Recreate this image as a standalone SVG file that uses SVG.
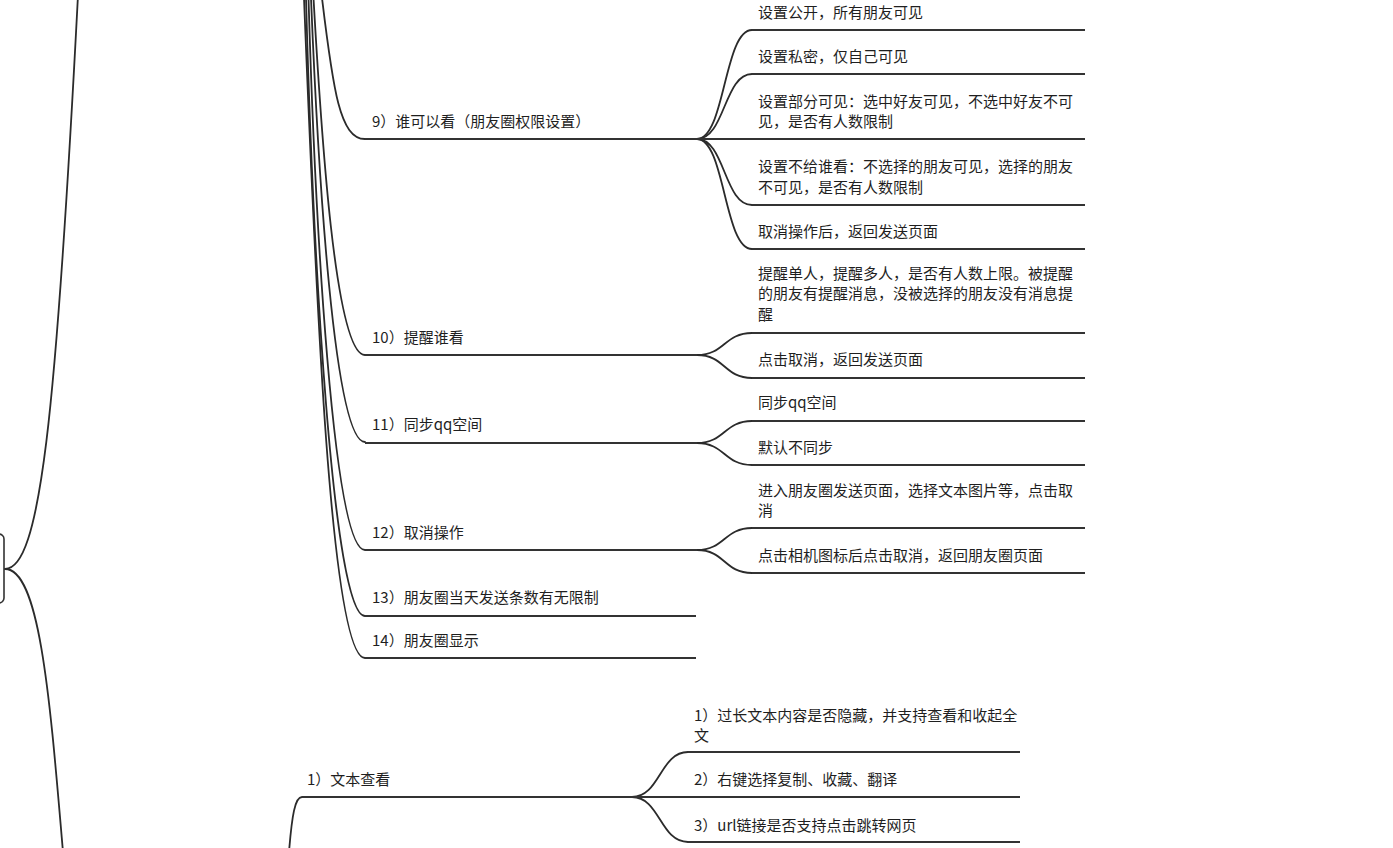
<svg xmlns="http://www.w3.org/2000/svg" width="1393" height="848" viewBox="0 0 1393 848">
  <style>
    .bg { fill: #ffffff; }
    .edge { fill: none; stroke: #2b2b2b; stroke-width: 1.8; stroke-linecap: round; }
    .bar { fill: none; stroke: #333333; stroke-width: 2; }
    .box { fill: #ffffff; stroke: #333333; stroke-width: 1.6; }
    text { font-family: "Noto Sans CJK SC", "Noto Sans", sans-serif; font-size: 15px; fill: #1f1f1f; }
  </style>
  <rect class="bg" x="0" y="0" width="1393" height="848"/>

  <!-- connectors -->
  <g id="connectors">
    <!-- root branches -->
    <path class="edge" d="M5,569 C40,569 56,420 78,-5"/>
    <path class="edge" d="M5,569 C40,569 50,700 63,852"/>
    <!-- send-moments children 9..14 (parent sits above the view) -->
    <path class="edge" d="M322,-2 C333,90 340,139 365,139"/>
    <path class="edge" d="M313.5,-2 C321,130 335,355 365,355"/>
    <path class="edge" d="M311,-2 C318,170 334,442 365,442"/>
    <path class="edge" d="M308.5,-2 C315,220 333,550 365,550"/>
    <path class="edge" d="M306,-2 C313,260 333,616 365,616"/>
    <path class="edge" d="M304,-2 C316,300 331,658 365,658"/>
    <!-- 9) permission options -->
    <path class="edge" d="M697,139 C725,139 724,30 752,30"/>
    <path class="edge" d="M697,139 C725,139 724,74 752,74"/>
    <path class="edge" d="M697,139 C725,139 724,205 752,205"/>
    <path class="edge" d="M697,139 C725,139 724,249 752,249"/>
    <!-- 10) remind -->
    <path class="edge" d="M697,355 C725,355 724,333 752,333"/>
    <path class="edge" d="M697,355 C725,355 724,378 752,378"/>
    <!-- 11) qq zone -->
    <path class="edge" d="M697,443 C725,443 724,421 752,421"/>
    <path class="edge" d="M697,443 C725,443 724,465 752,465"/>
    <!-- 12) cancel -->
    <path class="edge" d="M697,550 C725,550 724,528 752,528"/>
    <path class="edge" d="M697,550 C725,550 724,573 752,573"/>
    <!-- text view branch (parent sits below the view) -->
    <path class="edge" d="M302,797 C295,797 292,815 289,852"/>
    <path class="edge" d="M632,797 C660,797 660,752 688,752"/>
    <path class="edge" d="M632,797 C660,797 660,842 688,842"/>
  </g>

  <!-- root -->
  <g id="root">
    <rect class="box" x="-12" y="534" width="16" height="69" rx="5"/>
  </g>

  <!-- 9) who can see -->
  <g id="n9">
    <line class="bar" x1="365" y1="139" x2="697" y2="139"/>
    <text x="372" y="127">9）谁可以看（朋友圈权限设置）</text>
  </g>
  <g id="n9-1">
    <line class="bar" x1="752" y1="30" x2="1085" y2="30"/>
    <text x="758" y="17.5">设置公开，所有朋友可见</text>
  </g>
  <g id="n9-2">
    <line class="bar" x1="752" y1="74" x2="1085" y2="74"/>
    <text x="758" y="61.5">设置私密，仅自己可见</text>
  </g>
  <g id="n9-3">
    <line class="bar" x1="697" y1="139" x2="1085" y2="139"/>
    <text x="758" y="106.5">设置部分可见：选中好友可见，不选中好友不可</text>
    <text x="758" y="126.5">见，是否有人数限制</text>
  </g>
  <g id="n9-4">
    <line class="bar" x1="752" y1="205" x2="1085" y2="205"/>
    <text x="758" y="171.5">设置不给谁看：不选择的朋友可见，选择的朋友</text>
    <text x="758" y="192.5">不可见，是否有人数限制</text>
  </g>
  <g id="n9-5">
    <line class="bar" x1="752" y1="249" x2="1085" y2="249"/>
    <text x="758" y="236.5">取消操作后，返回发送页面</text>
  </g>

  <!-- 10) remind -->
  <g id="n10">
    <line class="bar" x1="365" y1="355" x2="697" y2="355"/>
    <text x="372" y="342.5">10）提醒谁看</text>
  </g>
  <g id="n10-1">
    <line class="bar" x1="752" y1="333" x2="1085" y2="333"/>
    <text x="758" y="278.5">提醒单人，提醒多人，是否有人数上限。被提醒</text>
    <text x="758" y="298.5">的朋友有提醒消息，没被选择的朋友没有消息提</text>
    <text x="758" y="319.5">醒</text>
  </g>
  <g id="n10-2">
    <line class="bar" x1="752" y1="378" x2="1085" y2="378"/>
    <text x="758" y="364.5">点击取消，返回发送页面</text>
  </g>

  <!-- 11) qq zone -->
  <g id="n11">
    <line class="bar" x1="365" y1="443" x2="697" y2="443"/>
    <text x="372" y="429.5">11）同步qq空间</text>
  </g>
  <g id="n11-1">
    <line class="bar" x1="752" y1="421" x2="1085" y2="421"/>
    <text x="758" y="407.5">同步qq空间</text>
  </g>
  <g id="n11-2">
    <line class="bar" x1="752" y1="465" x2="1085" y2="465"/>
    <text x="758" y="452.5">默认不同步</text>
  </g>

  <!-- 12) cancel -->
  <g id="n12">
    <line class="bar" x1="365" y1="550" x2="697" y2="550"/>
    <text x="372" y="537.5">12）取消操作</text>
  </g>
  <g id="n12-1">
    <line class="bar" x1="752" y1="528" x2="1085" y2="528"/>
    <text x="758" y="495.5">进入朋友圈发送页面，选择文本图片等，点击取</text>
    <text x="758" y="515.5">消</text>
  </g>
  <g id="n12-2">
    <line class="bar" x1="752" y1="573" x2="1085" y2="573"/>
    <text x="758" y="560.5">点击相机图标后点击取消，返回朋友圈页面</text>
  </g>

  <!-- 13) / 14) -->
  <g id="n13">
    <line class="bar" x1="365" y1="616" x2="696" y2="616"/>
    <text x="372" y="602.5">13）朋友圈当天发送条数有无限制</text>
  </g>
  <g id="n14">
    <line class="bar" x1="365" y1="658" x2="696" y2="658"/>
    <text x="372" y="645.5">14）朋友圈显示</text>
  </g>

  <!-- text view -->
  <g id="text-view">
    <line class="bar" x1="302" y1="797" x2="632" y2="797"/>
    <text x="307" y="784.5">1）文本查看</text>
  </g>
  <g id="text-view-1">
    <line class="bar" x1="688" y1="752" x2="1020" y2="752"/>
    <text x="694" y="720.5">1）过长文本内容是否隐藏，并支持查看和收起全</text>
    <text x="694" y="740.5">文</text>
  </g>
  <g id="text-view-2">
    <line class="bar" x1="632" y1="797" x2="1020" y2="797"/>
    <text x="694" y="784.5">2）右键选择复制、收藏、翻译</text>
  </g>
  <g id="text-view-3">
    <line class="bar" x1="688" y1="842" x2="1020" y2="842"/>
    <text x="694" y="830.5">3）url链接是否支持点击跳转网页</text>
  </g>
</svg>
